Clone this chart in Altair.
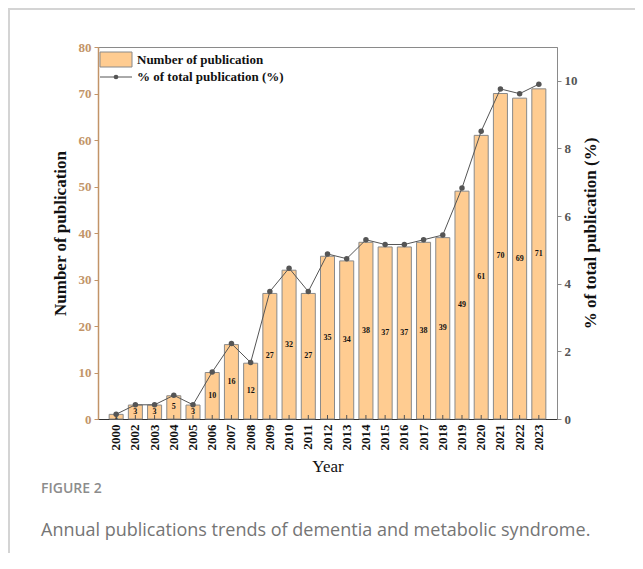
import altair as alt
import pandas as pd

years = ["2000", "2002", "2003", "2004", "2005", "2006", "2007", "2008", "2009", "2010",
         "2011", "2012", "2013", "2014", "2015", "2016", "2017", "2018", "2019", "2020",
         "2021", "2022", "2023"]
counts = [1, 3, 3, 5, 3, 10, 16, 12, 27, 32, 27, 35, 34, 38, 37, 37, 38, 39, 49, 61, 70, 69, 71]
pct = [0.14, 0.42, 0.42, 0.70, 0.42, 1.39, 2.23, 1.67, 3.77, 4.46, 3.77, 4.88, 4.74, 5.30,
       5.16, 5.16, 5.30, 5.44, 6.83, 8.51, 9.76, 9.62, 9.90]

left_ticks = [0, 10, 20, 30, 40, 50, 60, 70, 80]
right_ticks = [0, 2, 4, 6, 8, 10]

legend_labels = ["Number of publication", "% of total publication (%)"]
fig_label = "FIGURE 2"
caption = "Annual publications trends of dementia and metabolic syndrome."

df = pd.DataFrame({"year": years, "count": counts, "pct": pct})

W, H = 459, 372
SERIF = "Liberation Serif"
SANS = "Open Sans"
BROWN = "#c29468"
GREY = "#8a8a8a"
BAR_FILL = "#ffcc91"
LINE_C = "#555555"

x_axis = alt.Axis(title="Year", labelAngle=270, labelFont=SERIF, labelFontWeight="bold",
                  labelFontSize=13, labelColor="#111", labelPadding=5, ticks=False,
                  domainColor="#333", titleFont=SERIF, titleFontSize=17,
                  titleFontWeight="normal", titleColor="#111", titlePadding=8)
X = alt.X("year:O", sort=years, axis=x_axis,
          scale=alt.Scale(paddingInner=0.27, paddingOuter=0.58))

left_axis = alt.Axis(title="Number of publication", values=left_ticks, grid=False,
                     domainColor=BROWN, domainWidth=1.5, tickColor=BROWN, tickSize=4,
                     labelColor=BROWN, labelFont=SERIF, labelFontWeight="bold",
                     labelFontSize=13, labelPadding=3, titleFont=SERIF, titleFontSize=17,
                     titleFontWeight="bold", titleColor="#111", titlePadding=9)
left_scale = alt.Scale(domain=[0, 80], nice=False)

right_axis = alt.Axis(orient="right", title="% of total publication (%)", values=right_ticks,
                      grid=False, domainColor=GREY, tickColor=GREY, tickSize=4,
                      labelColor="#555", labelFont=SERIF, labelFontWeight="bold",
                      labelFontSize=13, labelPadding=3, titleFont=SERIF, titleFontSize=17,
                      titleFontWeight="bold", titleColor="#111", titlePadding=5,
                      titleAngle=270, titleBaseline="top")
right_scale = alt.Scale(domain=[0, 11], nice=False)

base = alt.Chart(df)

bars = base.mark_bar(fill=BAR_FILL, stroke=GREY, strokeWidth=1).encode(
    x=X, y=alt.Y("count:Q", scale=left_scale, axis=left_axis))
bar_text = base.transform_calculate(mid="datum.count / 2").mark_text(
    font=SERIF, fontWeight="bold", fontSize=8, color="#111", baseline="middle").encode(
    x=X, y=alt.Y("mid:Q", scale=left_scale, axis=left_axis), text="count:Q")
inner_ticks = base.mark_rule(color=LINE_C, strokeWidth=1).encode(
    x=X, y=alt.value(H), y2=alt.value(H - 4))
bar_group = alt.layer(bars, bar_text, inner_ticks)

line = base.mark_line(color=LINE_C, strokeWidth=1).encode(
    x=X, y=alt.Y("pct:Q", scale=right_scale, axis=right_axis))
pts = base.mark_circle(color=LINE_C, size=30, opacity=1).encode(
    x=X, y=alt.Y("pct:Q", scale=right_scale, axis=right_axis))
line_group = alt.layer(line, pts)

one = alt.Data(values=[{"a": 1}])

leg_rect = alt.Chart(one).mark_rect(fill=BAR_FILL, stroke=GREY, strokeWidth=1).encode(
    x=alt.value(2), x2=alt.value(34), y=alt.value(5), y2=alt.value(20))
leg_line = alt.Chart(one).mark_rule(color=LINE_C, strokeWidth=1).encode(
    x=alt.value(2), x2=alt.value(34), y=alt.value(30))
leg_dot = alt.Chart(one).mark_circle(color=LINE_C, size=22, opacity=1).encode(
    x=alt.value(18), y=alt.value(30))
leg_t1 = alt.Chart(one).mark_text(font=SERIF, fontWeight="bold", fontSize=13, color="#111",
                                  align="left", baseline="middle").encode(
    x=alt.value(39), y=alt.value(13), text=alt.value(legend_labels[0]))
leg_t2 = alt.Chart(one).mark_text(font=SERIF, fontWeight="bold", fontSize=13, color="#111",
                                  align="left", baseline="middle").encode(
    x=alt.value(39), y=alt.value(30), text=alt.value(legend_labels[1]))

cap1 = alt.Chart(one).mark_text(font=SANS, fontSize=14, fontWeight=600, color="#8c8c8c",
                                align="left", baseline="middle").encode(
    x=alt.value(-57), y=alt.value(442), text=alt.value(fig_label))
cap2 = alt.Chart(one).mark_text(font=SANS, fontSize=18, color="#757575", align="left",
                                baseline="middle").encode(
    x=alt.value(-57), y=alt.value(484), text=alt.value(caption))

border_left = alt.Chart(one).mark_rule(color="#d4d4d4", strokeWidth=2).encode(
    x=alt.value(-89), y=alt.value(-39), y2=alt.value(520))
border_top = alt.Chart(one).mark_rule(color="#d4d4d4", strokeWidth=2).encode(
    x=alt.value(-90), x2=alt.value(545), y=alt.value(-38))

chart = alt.layer(
    bar_group, line_group,
    leg_rect, leg_line, leg_dot, leg_t1, leg_t2,
    cap1, cap2, border_left, border_top
).resolve_scale(y="independent").properties(
    width=W, height=H,
    autosize=alt.AutoSizeParams(type="none"),
    padding={"left": 90, "top": 39, "right": 78, "bottom": 134},
).configure_view(stroke=GREY, strokeWidth=1)

chart.save("out.html", embed_options={"renderer": "svg", "actions": False})
